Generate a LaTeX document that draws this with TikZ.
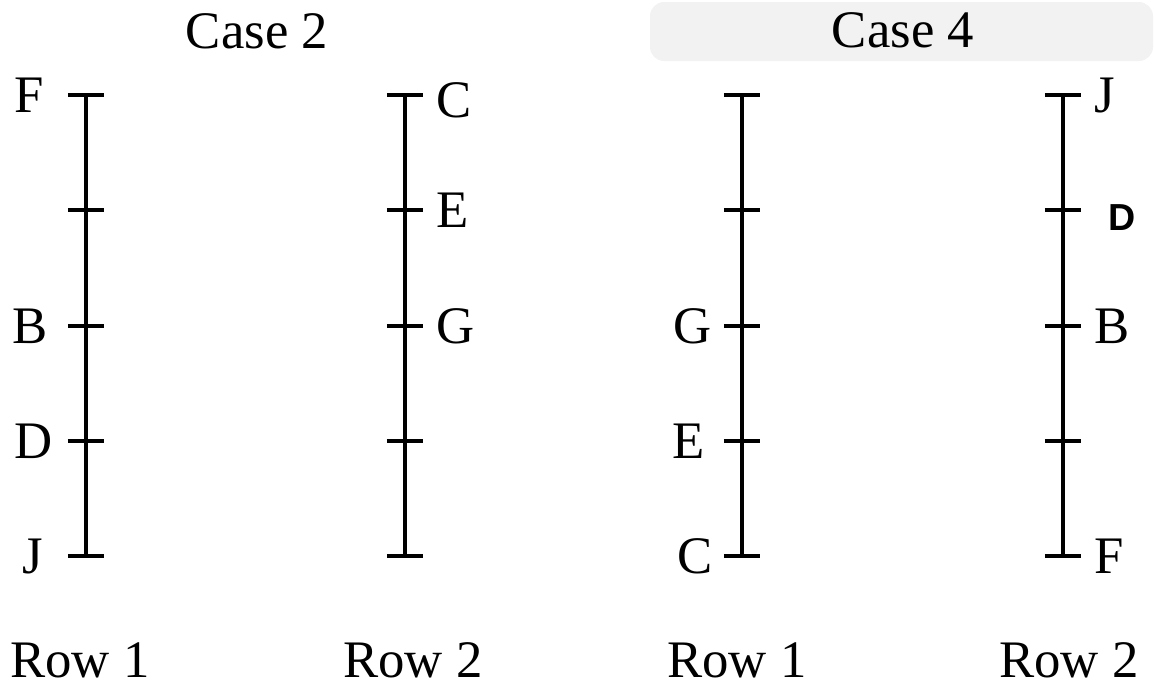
\documentclass[tikz,border=0pt]{standalone}
\usepackage{fontspec}
\setmainfont{Liberation Serif}
\newfontfamily\sansbold{Liberation Sans}
\usetikzlibrary{positioning}
\tikzset{
  post/.style={line width=1.2pt},
  tickmark/.style={line width=1.2pt},
  lab/.style={inner sep=0pt, font=\fontsize{15}{18}\selectfont},
  boldlab/.style={inner sep=0pt, font=\sansbold\bfseries\fontsize{10.7}{12}\selectfont}
}

\begin{document}
\begin{tikzpicture}[x=0.01cm,y=-0.01cm]
  \useasboundingbox (0,0) rectangle (1154,687);
  % screenshot bar behind the second title
  \fill[gray!10, rounded corners=4pt] (650,2) rectangle (1153,61);

  % the four posts, five marks each
  \foreach \n/\x in {a/86,b/405,c/742,d/1063} {
    \foreach \k/\y in {1/95,2/210,3/326,4/441,5/556}
      \coordinate (\n\k) at (\x,\y);
    \draw[post] (\n1) -- (\n5);
    \foreach \k in {1,...,5}
      \draw[tickmark] ([xshift=-0.18cm]\n\k) -- ([xshift=0.18cm]\n\k);
  }

  \node[lab] (case2) at (257,31) {Case 2};
  \node[lab] (case4) at (903,30) {Case 4};

  % Case 2, row 1
  \node[lab, left=0.41cm of a1] (aF) {F};
  \node[lab, left=0.38cm of a3] (aB) {B};
  \node[lab, left=0.33cm of a4] (aD) {D};
  \node[lab, left=0.42cm of a5] (aJ) {J};
  % Case 2, row 2
  \node[lab, right=0.31cm of b1, yshift=-0.05cm] (bC) {C};
  \node[lab, right=0.31cm of b2] (bE) {E};
  \node[lab, right=0.31cm of b3] (bG) {G};
  % Case 4, row 1
  \node[lab, left=0.3cm of c3] (cG) {G};
  \node[lab, left=0.37cm of c4] (cE) {E};
  \node[lab, left=0.29cm of c5] (cC) {C};
  % Case 4, row 2
  \node[lab, right=0.31cm of d1] (dJ) {J};
  \node[boldlab, right=0.45cm of d2, yshift=-0.08cm] (dD) {D};
  \node[lab, right=0.31cm of d3] (dB) {B};
  \node[lab, right=0.31cm of d5] (dF) {F};

  \node[lab] (row1a) at (80,660) {Row 1};
  \node[lab] (row2a) at (413,660) {Row 2};
  \node[lab] (row1b) at (737,660) {Row 1};
  \node[lab] (row2b) at (1069,660) {Row 2};
\end{tikzpicture}
\end{document}
